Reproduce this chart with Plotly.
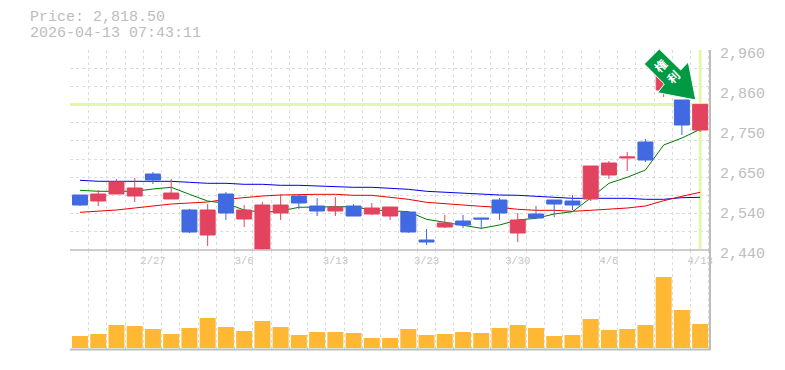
import plotly.graph_objects as go
from plotly.subplots import make_subplots

dates = ["2/20","2/24","2/25","2/26","2/27","3/2","3/3","3/4","3/5","3/6","3/9","3/10","3/11","3/12","3/13",
         "3/16","3/17","3/18","3/19","3/23","3/24","3/25","3/26","3/27","3/30","3/31","4/1","4/2","4/3","4/6",
         "4/7","4/8","4/9","4/10","4/13"]
opens = [2583,2567.4,2585.6,2580.4,2637.6,2572.6,2544,2479,2585.6,2520.6,2442.6,2536.2,2580.4,2554.4,2541.4,
         2554.4,2533.6,2528.4,2538.8,2466,2499.8,2515.4,2523.2,2570,2484.2,2533.6,2570,2567.4,2572.6,2635,
         2679.2,2720.8,2856,2830,2752]
highs = [2583,2596,2624.6,2627.2,2642.8,2624.6,2546.6,2559.6,2590.8,2557,2564.8,2585.6,2585.6,2575.2,2577.8,
         2559.6,2562.2,2551.8,2538.8,2494.6,2531,2531,2523.2,2575.2,2536.2,2554.4,2570,2583,2658.4,2671.4,
         2694.8,2728.6,2908,2830,2818.5]
lows = [2554.4,2554.4,2585.6,2564.8,2611.6,2572.6,2484.2,2450.4,2518,2499.8,2440,2518,2546.6,2528.4,2528.4,
        2528.4,2531,2518,2484.2,2453,2497.2,2497.2,2494.6,2518,2460.8,2523.2,2525.8,2544,2567.4,2624.6,
        2645.4,2668.8,2837.8,2739,2746.8]
closes = [2557,2585.6,2616.8,2601.2,2622,2588.2,2486.8,2544,2536.2,2544,2557,2557,2562.2,2541.4,2551.8,
          2528.4,2549.2,2551.8,2486.8,2460.8,2510.2,2505,2520.6,2536.2,2518,2523.2,2559.6,2557,2658.4,2666.2,
          2681.8,2674,2895,2765,2818.5]
ma_blue = [2621.2,2618.6,2618.6,2618.6,2618.6,2618.6,2616,2613.4,2613.4,2610.8,2610.8,2608.2,2608.2,2606.4,2606.4,
           2603,2603,2600.4,2597.8,2592.6,2590,2587.4,2584.8,2583,2582.2,2579.6,2577,2574.4,2574.4,2574.4,
           2574.4,2571.8,2571.8,2576,2577]
ma_red = [2538,2540.6,2544,2549.2,2554.4,2559.6,2562.2,2564.8,2571.8,2577,2580.4,2583,2584.8,2584.8,2584.8,
          2582.2,2582.2,2577,2571.8,2564,2561.4,2557,2553.6,2551,2545.8,2543.2,2543.2,2540.6,2543.2,2545.8,
          2549.2,2554.4,2568.2,2579.6,2590]
ma_green = [2595.2,2592.6,2592.6,2592.6,2598.6,2603,2584.8,2567.4,2561.4,2544,2538,2541.4,2551,2552.6,2552.6,
            2552.6,2544,2542.2,2539.6,2519.8,2511,2504.2,2496.4,2505,2518,2522.4,2533.6,2539.6,2575.2,2613.4,
            2629,2648,2713,2731.2,2753.8]
volume = [120000,140000,230000,220000,190000,140000,200000,300000,210000,170000,270000,210000,130000,160000,160000,
          150000,100000,100000,190000,130000,140000,160000,150000,200000,230000,200000,120000,130000,290000,180000,
          190000,230000,710000,380000,240000]
price_ticks = [2960,2856,2752,2648,2544,2440]
price_labels = ["2,960","2,860","2,750","2,650","2,540","2,440"]
date_labels = ["2/27","3/6","3/13","3/23","3/30","4/6","4/13"]
current_price = 2818.5
header = ["Price: 2,818.50","2026-04-13 07:43:11"]
badge = ["権","利"]

idx = list(range(len(dates)))
label_pos = [dates.index(d) for d in date_labels]
FONT = "Liberation Mono"
GREY = "#bdbdbd"
GRID = "#dcdcdc"
PALE = "#e3f6a9"
X_RANGE = [-0.548, 34.54]
Y_RANGE = [2440, 2960]
grid_x = dict(showgrid=True, gridcolor=GRID, griddash="3px,3px", gridwidth=1, tick0=-0.52, dtick=1, ticklen=0)

fig = make_subplots(rows=2, cols=1, shared_xaxes=False, vertical_spacing=0, row_heights=[2/3, 1/3])

fig.add_trace(go.Scatter(x=X_RANGE, y=[current_price, current_price], mode="lines",
                         line=dict(color=PALE, width=3), zorder=-2), 1, 1)
fig.add_trace(go.Scatter(x=[idx[-1], idx[-1]], y=[Y_RANGE[0] + 3, Y_RANGE[1]], mode="lines",
                         line=dict(color=PALE, width=3), zorder=-2), 1, 1)
fig.add_trace(go.Scatter(x=idx, y=ma_blue, mode="lines", line=dict(color="#0000ee", width=1), zorder=0), 1, 1)
fig.add_trace(go.Scatter(x=idx, y=ma_red, mode="lines", line=dict(color="#ee0000", width=1), zorder=0), 1, 1)
fig.add_trace(go.Scatter(x=idx, y=ma_green, mode="lines", line=dict(color="#007a00", width=1), zorder=0), 1, 1)
fig.add_trace(go.Candlestick(x=idx, open=opens, high=highs, low=lows, close=closes, zorder=1,
                             whiskerwidth=0,
                             increasing=dict(line=dict(color="#e2435f", width=1), fillcolor="#e2435f"),
                             decreasing=dict(line=dict(color="#4169e1", width=1), fillcolor="#4169e1")), 1, 1)
fig.add_trace(go.Bar(x=idx, y=volume, width=0.877, marker=dict(color="#ffb833", line=dict(width=0))), 2, 1)

fig.update_layout(
    width=777, height=362, autosize=False, showlegend=False,
    margin=dict(l=62, r=75, t=42, b=20, autoexpand=False),
    paper_bgcolor="white", plot_bgcolor="white", boxgap=0.18, boxgroupgap=0,
    xaxis=dict(range=X_RANGE, rangeslider=dict(visible=False), tickmode="array", tickvals=label_pos,
               ticktext=date_labels, showgrid=False, ticks="", zeroline=False, showline=False, automargin=False,
               tickfont=dict(family=FONT, size=10.5, color="#c4c4c4"), tickangle=0,
               minor=grid_x, ticklabelstandoff=2),
    xaxis2=dict(range=X_RANGE, showticklabels=False, ticks="", showgrid=False, zeroline=False,
                showline=False, minor=grid_x, automargin=False),
    yaxis=dict(range=Y_RANGE, side="right", tickmode="array", tickvals=price_ticks, ticktext=price_labels,
               showgrid=False, ticks="", zeroline=False, showline=False, automargin=False,
               tickfont=dict(family=FONT, size=15, color=GREY), ticklabelstandoff=9, ticklabelshift=3,
               minor=dict(showgrid=True, gridcolor=GRID, griddash="3px,3px", gridwidth=1, tick0=2440,
                          dtick=520/11, ticklen=0)),
    yaxis2=dict(range=[-20000, 980000], side="right", showticklabels=False, ticks="", showgrid=False,
                zeroline=False, showline=False, automargin=False),
)

def px(x, y):
    return (x - 70) / 640, 1 - (y - 50) / 300

for (x0, y0, x1, y1, w) in [(70, 250, 710, 250, 1.5), (70, 349.5, 711, 349.5, 2), (710, 50, 710, 350, 2)]:
    a0, b0 = px(x0, y0)
    a1, b1 = px(x1, y1)
    fig.add_shape(type="line", xref="paper", yref="paper", x0=a0, y0=b0, x1=a1, y1=b1,
                  line=dict(color=GREY, width=w), layer="above")

arrow = [(659.3, 49), (644.3, 64), (664.3, 84), (657.7, 92.7), (695.7, 100), (688.3, 62), (680.7, 70)]
path = "M " + " L ".join("%.4f,%.4f" % px(*p) for p in arrow) + " Z"
fig.add_shape(type="path", xref="paper", yref="paper", path=path, fillcolor="#009944",
              line=dict(color="white", width=1), layer="above")

for txt, (cx, cy) in zip(badge, [(659.7, 65.3), (672.7, 76.7)]):
    ax, ay = px(cx, cy)
    fig.add_annotation(xref="paper", yref="paper", x=ax, y=ay, text="<b>%s</b>" % txt, showarrow=False,
                       textangle=-45, font=dict(family="Noto Sans CJK JP", size=12, color="white"),
                       xanchor="center", yanchor="middle")

for txt, cy in zip(header, [18, 33]):
    ax, ay = px(30, cy)
    fig.add_annotation(xref="paper", yref="paper", x=ax, y=ay, text=txt, showarrow=False, xanchor="left",
                       yanchor="middle", xshift=-2, font=dict(family=FONT, size=15, color=GREY))

fig.write_html("out.html")
